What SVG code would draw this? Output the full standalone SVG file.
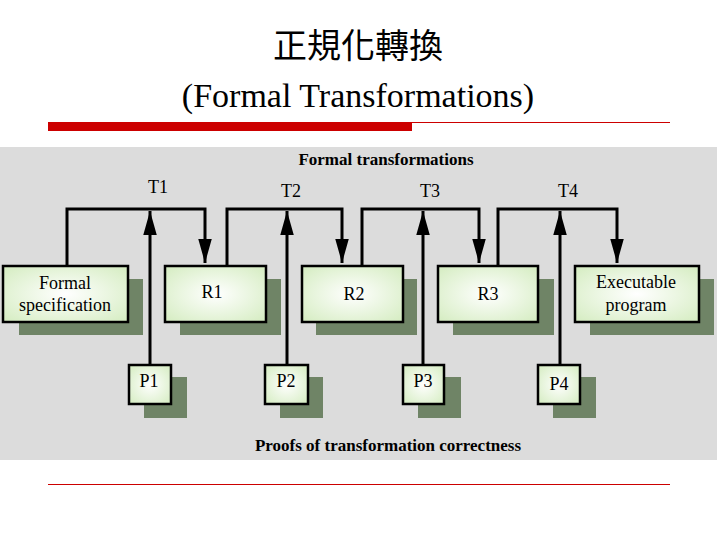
<svg xmlns="http://www.w3.org/2000/svg" width="717" height="538" viewBox="0 0 717 538">
<defs>
<style>
.t{font-family:"Liberation Serif","Times New Roman","DejaVu Serif",serif;fill:#000}
.cjk{font-family:"Noto Sans CJK TC","Noto Sans CJK SC",sans-serif;fill:#000}
.box{stroke:#000;stroke-width:2.5;fill:url(#g)}
.sh{fill:#6f8466}
.ln{stroke:#000;stroke-width:3;fill:none}
</style>
<radialGradient id="g" cx="0.5" cy="0.5" r="0.7"><stop offset="0" stop-color="#ffffff"/><stop offset="1" stop-color="#d4ecc0"/></radialGradient>
<marker id="a" viewBox="0 0 10 10" refX="10" refY="5" markerWidth="8" markerHeight="4.5" markerUnits="strokeWidth" orient="auto" preserveAspectRatio="none"><path d="M0,0L10,5L0,10z" fill="#000"/></marker>
</defs>
<rect width="717" height="538" fill="#fff"/>
<text class="cjk" x="358" y="58" font-size="34" text-anchor="middle">正規化轉換</text>
<text class="t" x="358" y="107" font-size="34" text-anchor="middle">(Formal Transformations)</text>
<rect x="48" y="122" width="364" height="9" fill="#cc0000"/>
<line x1="412" y1="122.5" x2="670" y2="122.5" stroke="#cc0000" stroke-width="1"/>
<line x1="48" y1="484.5" x2="670" y2="484.5" stroke="#cc0000" stroke-width="1"/>
<rect x="0" y="147" width="717" height="313" fill="#dcdcdc"/>
<text class="t" x="386" y="165" font-size="17" font-weight="bold" text-anchor="middle">Formal transformations</text>
<text class="t" x="388" y="451" font-size="17" font-weight="bold" text-anchor="middle">Proofs of transformation correctness</text>
<g class="t" font-size="18" text-anchor="middle"><text x="158" y="193">T1</text><text x="291" y="197">T2</text><text x="430" y="197">T3</text><text x="568" y="197">T4</text></g>
<g id="connectors">
<path class="ln" d="M67,266V209H205V263" marker-end="url(#a)"/>
<path class="ln" d="M227,266V209H342V263" marker-end="url(#a)"/>
<path class="ln" d="M362,266V209H479V263" marker-end="url(#a)"/>
<path class="ln" d="M498,266V209H617V263" marker-end="url(#a)"/>
<path class="ln" d="M150,365V211" marker-end="url(#a)"/>
<path class="ln" d="M287,365V211" marker-end="url(#a)"/>
<path class="ln" d="M423,365V211" marker-end="url(#a)"/>
<path class="ln" d="M560,365V211" marker-end="url(#a)"/>
</g>
<g id="spec"><rect class="sh" x="19" y="279" width="124" height="56"/><rect class="box" x="3" y="266" width="125" height="56"/><text class="t" x="65" y="289" font-size="18" text-anchor="middle">Formal</text><text class="t" x="65" y="311" font-size="18" text-anchor="middle">specification</text></g>
<g id="R1"><rect class="sh" x="180" y="279" width="101" height="56"/><rect class="box" x="165" y="266" width="101" height="56"/><text class="t" x="212" y="298" font-size="18" text-anchor="middle">R1</text></g>
<g id="R2"><rect class="sh" x="316" y="279" width="101" height="56"/><rect class="box" x="302" y="266" width="101" height="56"/><text class="t" x="354" y="300" font-size="18" text-anchor="middle">R2</text></g>
<g id="R3"><rect class="sh" x="453" y="279" width="101" height="56"/><rect class="box" x="438" y="266" width="100" height="56"/><text class="t" x="488" y="300" font-size="18" text-anchor="middle">R3</text></g>
<g id="exec"><rect class="sh" x="590" y="279" width="124" height="56"/><rect class="box" x="575" y="266" width="124" height="56"/><text class="t" x="636" y="288" font-size="18" text-anchor="middle">Executable</text><text class="t" x="636" y="311" font-size="18" text-anchor="middle">program</text></g>
<g id="P1"><rect class="sh" x="144" y="377" width="43" height="41"/><rect class="box" x="129" y="365" width="42" height="39"/><text class="t" x="149" y="387" font-size="18" text-anchor="middle">P1</text></g>
<g id="P2"><rect class="sh" x="280" y="377" width="43" height="41"/><rect class="box" x="265" y="365" width="43" height="39"/><text class="t" x="286" y="387" font-size="18" text-anchor="middle">P2</text></g>
<g id="P3"><rect class="sh" x="418" y="377" width="43" height="41"/><rect class="box" x="403" y="365" width="41" height="39"/><text class="t" x="423" y="387" font-size="18" text-anchor="middle">P3</text></g>
<g id="P4"><rect class="sh" x="553" y="377" width="43" height="41"/><rect class="box" x="538" y="365" width="42" height="39"/><text class="t" x="559" y="390" font-size="18" text-anchor="middle">P4</text></g>
</svg>
